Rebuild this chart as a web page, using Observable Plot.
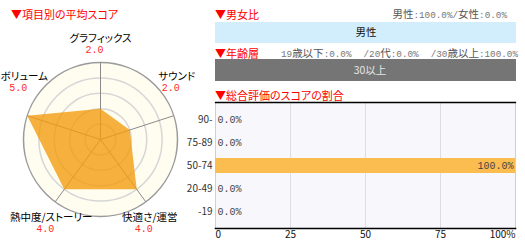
<!DOCTYPE html>
<html>
<head>
<meta charset="utf-8">
<script src="https://cdn.jsdelivr.net/npm/d3@7"></script>
<script src="https://cdn.jsdelivr.net/npm/@observablehq/plot@0.6"></script>
<style>
  html, body { margin: 0; padding: 0; background: #fff; }
  body { width: 525px; height: 246px; overflow: hidden; position: relative;
         font-family: 'Noto Sans CJK JP', 'Noto Sans', sans-serif; font-feature-settings: "palt"; }
  .abs { position: absolute; }
  .hdr { color: #ff0000; font-size: 11px; line-height: 12px; white-space: nowrap; }
  .info { color: #555; font-size: 10.5px; line-height: 12px; white-space: pre; }
  .info .num { font-family: 'Liberation Mono', 'DejaVu Sans Mono', monospace; font-size: 9.3px; color: #777; }
  .info .seg { margin-left: 12px; }
  svg { font-feature-settings: "palt"; }
</style>
</head>
<body>
<div id="root"></div>
<script>
// ---------- data ----------
const radarAxes = ["グラフィックス", "サウンド", "快適さ/運営", "熱中度/ストーリー", "ボリューム"];
const radarScores = [2.0, 2.0, 4.0, 4.0, 5.0];
const radarMax = 5;

const genderLabels = ["男性", "女性"];
const genderPct = [100.0, 0.0];

const ageLabels = ["19歳以下", "20代", "30歳以上"];
const ageBarLabels = ["19以下", "20代", "30以上"];
const agePct = [0.0, 0.0, 100.0];

const scoreBands = ["90-", "75-89", "50-74", "20-49", "-19"];
const scorePct = [0.0, 0.0, 100.0, 0.0, 0.0];
const scoreTicks = [0, 25, 50, 75, 100];

const titles = ["▼項目別の平均スコア", "▼男女比", "▼年齢層", "▼総合評価のスコアの割合"];

// ---------- helpers ----------
const FONT = "'Noto Sans CJK JP', 'Noto Sans', sans-serif";
const MONO = "'Liberation Mono', 'DejaVu Sans Mono', monospace";
const root = document.getElementById("root");
function place(node, left, top) {
  const d = document.createElement("div");
  d.className = "abs";
  d.style.left = left + "px";
  d.style.top = top + "px";
  d.appendChild(node);
  root.appendChild(d);
  return d;
}
function textDiv(cls, txt) {
  const d = document.createElement("div");
  d.className = cls;
  d.textContent = txt;
  return d;
}
const fmt = v => v.toFixed(1) + "%";
// wrap ASCII runs in monospace spans
function appendMixed(parent, str) {
  str.split(/([\x20-\x7e]+)/).forEach(part => {
    if (!part) return;
    if (/^[\x20-\x7e]+$/.test(part)) {
      const sp = document.createElement("span");
      sp.className = "num";
      sp.textContent = part;
      parent.appendChild(sp);
    } else {
      parent.appendChild(document.createTextNode(part));
    }
  });
}
function infoDiv(labels, values, sepClass) {
  const d = document.createElement("div");
  d.className = "info";
  labels.forEach((l, i) => {
    const s = document.createElement("span");
    if (i && sepClass) s.className = sepClass;
    appendMixed(s, (i ? "/" : "") + l + ":" + fmt(values[i]));
    d.appendChild(s);
  });
  return d;
}

// ---------- radar ----------
const W = 210, H = 246, mL = 23, mR = 33, mT = 62, mB = 30;
const R = (W - mL - mR) / 2;           // pixel radius of the outer ring
const k = R / radarMax;                 // pixels per score unit
const n = radarAxes.length;
const ang = i => 2 * Math.PI * i / n;
const radarRows = radarAxes.map((name, i) => {
  const a = ang(i), s = Math.sin(a), c = Math.cos(a);
  const dyL = c > 0.9 ? -24 : c > 0 ? -39 : 16;  // label pixel offsets
  const dxL = Math.abs(s) < 0.1 ? 0 : Math.sign(s) * (c > 0 ? 3 : 4);
  const ex = radarMax * s, ey = radarMax * c;
  return {
    name, score: radarScores[i],
    ex, ey,
    px: radarScores[i] * s, py: radarScores[i] * c,
    lx: ex + dxL / k, ly: ey - dyL / k,
    vx: ex + (dxL - 6) / k, vy: ey - (dyL + 11) / k
  };
});

const radar = Plot.plot({
  width: W, height: H, marginLeft: mL, marginRight: mR, marginTop: mT, marginBottom: mB,
  style: { fontFamily: FONT, fontSize: "10px", background: "transparent", overflow: "visible" },
  x: { domain: [-radarMax, radarMax], axis: null },
  y: { domain: [-radarMax, radarMax], axis: null },
  r: { type: "linear", domain: [0, radarMax], range: [0, R] },
  marks: [
    Plot.dot([radarMax], { x: 0, y: 0, r: d => d, fill: "#fffdf0", stroke: "#9a9a9a" }),
    Plot.dot(d3.range(1, radarMax), { x: 0, y: 0, r: d => d, fill: "none", stroke: "#d6d6d6" }),
    Plot.link(radarRows, { x1: 0, y1: 0, x2: "ex", y2: "ey", stroke: "#8a8a8a" }),
    Plot.line(radarRows, { x: "px", y: "py", curve: "linear-closed", fill: "#f39c10", fillOpacity: 0.8, stroke: "none" }),
    Plot.text(radarRows, { x: "lx", y: "ly", text: "name", fill: "#000", fontSize: 10.5 }),
    Plot.text(radarRows, { x: "vx", y: "vy", text: d => d.score.toFixed(1), fill: "#ff2a2a", fontSize: 10, fontFamily: MONO })
  ]
});
place(radar, 0, 0);
place(textDiv("hdr", titles[0]), 11, 8);

// ---------- gender ----------
place(textDiv("hdr", titles[1]), 215, 8);
const gInfoBox = place(infoDiv(genderLabels, genderPct, null), 0, 8);
gInfoBox.style.left = "auto"; gInfoBox.style.right = (525 - 507) + "px";

const genderRows = genderLabels.map((label, i) => ({ label, pct: genderPct[i] }));
const gender = Plot.plot({
  width: 301, height: 21, margin: 0,
  style: { fontFamily: FONT, fontSize: "10.5px", background: "transparent", overflow: "visible" },
  x: { domain: [0, 100], axis: null },
  color: { domain: genderLabels, range: ["#d2eefc", "#fcd9e6"] },
  marks: [
    Plot.barX(genderRows, Plot.stackX({ x: "pct", fill: "label" })),
    Plot.text(genderRows.filter(d => d.pct > 0), Plot.stackX({ x: "pct", text: "label", fill: "#111", fontSize: 10.5 }))
  ]
});
place(gender, 215, 22);

// ---------- age ----------
place(textDiv("hdr", titles[2]), 215, 47);
const aInfoBox = place(infoDiv(ageLabels, agePct, "seg"), 0, 47);
aInfoBox.style.left = "auto"; aInfoBox.style.right = (525 - 518) + "px";

const ageRows = ageBarLabels.map((label, i) => ({ label, pct: agePct[i] }));
const age = Plot.plot({
  width: 301, height: 22, margin: 0,
  style: { fontFamily: FONT, fontSize: "10.5px", background: "transparent", overflow: "visible" },
  x: { domain: [0, 100], axis: null },
  color: { domain: ageBarLabels, range: ["#b0b0b0", "#949494", "#757575"] },
  marks: [
    Plot.barX(ageRows, Plot.stackX({ x: "pct", fill: "label" })),
    Plot.text(ageRows.filter(d => d.pct > 0), Plot.stackX({ x: "pct", text: "label", fill: "#e6e6e6", fontSize: 10.5, dx: 4 }))
  ]
});
place(age, 215, 59);

// ---------- score distribution ----------
place(textDiv("hdr", titles[3]), 215, 89);
const scoreRows = scoreBands.map((band, i) => ({ band, pct: scorePct[i] }));
const score = Plot.plot({
  width: 340, height: 146, marginLeft: 30, marginRight: 10, marginTop: 2, marginBottom: 18,
  style: { fontFamily: FONT, fontSize: "10px", background: "transparent", overflow: "visible", color: "#222" },
  x: { domain: [0, 100], axis: null },
  y: { domain: scoreBands, padding: 0.36, axis: null },
  marks: [
    Plot.frame({ fill: "#f7f7fc", stroke: "#cfcfd6" }),
    Plot.gridX(scoreTicks.slice(1, -1), { stroke: "#dcdce2", strokeOpacity: 1 }),
    Plot.barX(scoreRows, { x: "pct", y: "band", fill: "#fbbd50" }),
    Plot.frame({ anchor: "top", stroke: "#000", strokeWidth: 1.3 }),
    Plot.frame({ anchor: "bottom", stroke: "#000", strokeWidth: 1.6 }),
    Plot.axisY({ tickSize: 0, tickPadding: 3, fill: "#333", label: null }),
    Plot.axisX(scoreTicks.slice(0, 1), { tickSize: 0, tickPadding: 2, textAnchor: "start", fill: "#111", label: null }),
    Plot.axisX(scoreTicks.slice(1, -1), { tickSize: 0, tickPadding: 2, fill: "#111", label: null }),
    Plot.axisX(scoreTicks.slice(-1), { tickSize: 0, tickPadding: 2, textAnchor: "end", tickFormat: d => d + "%", fill: "#111", label: null }),
    Plot.text(scoreRows.filter(d => d.pct < 50), { x: "pct", y: "band", text: d => fmt(d.pct), textAnchor: "start", dx: 2, fill: "#444", fontFamily: MONO }),
    Plot.text(scoreRows.filter(d => d.pct >= 50), { x: "pct", y: "band", text: d => fmt(d.pct), textAnchor: "end", dx: -2, fill: "#444", fontFamily: MONO })
  ]
});
place(score, 185, 100);
</script>
</body>
</html>
